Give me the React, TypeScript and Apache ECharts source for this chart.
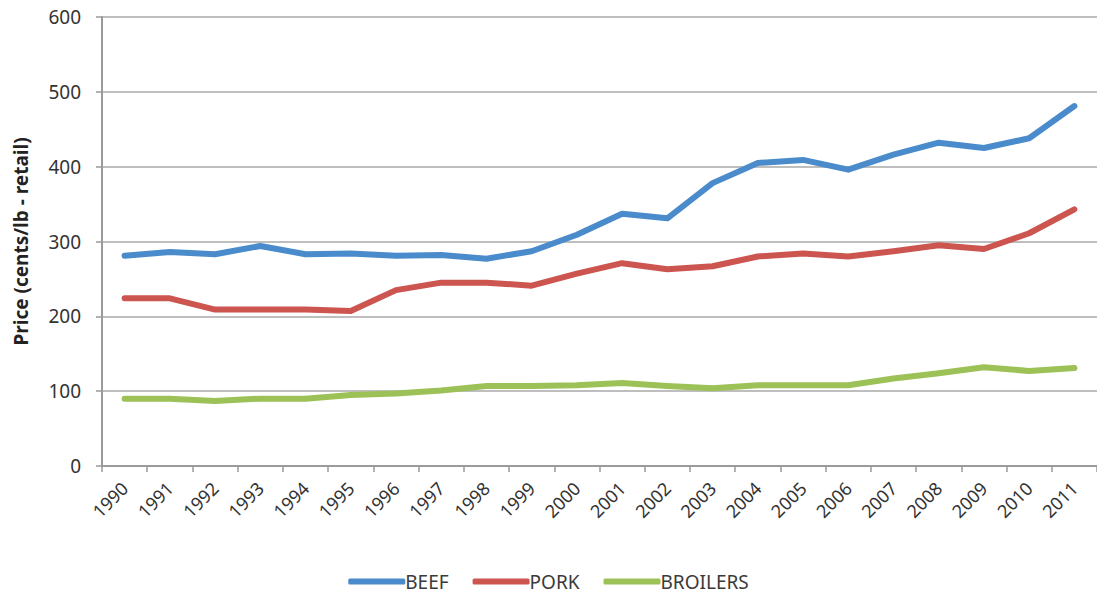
import React, { useEffect, useRef } from "react";
import * as echarts from "echarts";

const years = ["1990","1991","1992","1993","1994","1995","1996","1997","1998","1999","2000","2001","2002","2003","2004","2005","2006","2007","2008","2009","2010","2011"];
const beef = [281, 286, 283, 294, 283, 284, 281, 282, 277, 287, 309, 337, 331, 378, 405, 409, 396, 416, 432, 425, 438, 481];
const pork = [224, 224, 209, 209, 209, 207, 235, 245, 245, 241, 257, 271, 263, 267, 280, 284, 280, 287, 295, 290, 311, 343];
const broilers = [90, 90, 87, 90, 90, 95, 97, 101, 107, 107, 108, 111, 107, 104, 108, 108, 108, 117, 124, 132, 127, 131];
const yTicks = [0, 100, 200, 300, 400, 500, 600];

const FONT = "'Noto Sans', 'Open Sans', sans-serif";

export default function App() {
  const ref = useRef<HTMLDivElement>(null);
  useEffect(() => {
    if (!ref.current) return;
    const chart = echarts.init(ref.current, null, { renderer: "svg" });
    const mk = (name: string, data: number[], color: string) => ({
      name,
      type: "line",
      data,
      symbol: "none",
      smooth: false,
      lineStyle: { color, width: 6, cap: "round", join: "round" },
      itemStyle: { color },
    });
    chart.setOption({
      animation: false,
      backgroundColor: "#ffffff",
      textStyle: { fontFamily: FONT },
      grid: { left: 102, top: 17, width: 998, height: 449 },
      legend: {
        top: 567,
        left: "center",
        icon: "roundRect",
        itemWidth: 57,
        itemHeight: 6,
        itemGap: 24,
        textStyle: { fontFamily: FONT, fontSize: 19, color: "#3a3a3a", padding: [0, 0, 0, -5] },
        data: ["BEEF", "PORK", "BROILERS"],
      },
      xAxis: {
        type: "category",
        data: years,
        boundaryGap: true,
        axisLine: { lineStyle: { color: "#9a9a9a", width: 2 } },
        axisTick: { show: true, interval: 0, length: 6, lineStyle: { color: "#9a9a9a", width: 1.5 } },
        axisLabel: { interval: 0, rotate: 45, fontSize: 18, color: "#333", margin: 19, fontFamily: FONT },
        splitLine: { show: false },
      },
      yAxis: {
        type: "value",
        min: yTicks[0],
        max: yTicks[yTicks.length - 1],
        interval: 100,
        name: "Price (cents/lb - retail)",
        nameLocation: "middle",
        nameGap: 72,
        nameTextStyle: { fontFamily: FONT, fontSize: 19, fontWeight: "bold", color: "#222" },
        axisLine: { show: true, lineStyle: { color: "#9a9a9a", width: 2 } },
        axisTick: { show: true, length: 6, lineStyle: { color: "#9a9a9a", width: 1.5 } },
        axisLabel: { fontSize: 19, color: "#333", margin: 21, fontFamily: FONT },
        splitLine: { show: true, lineStyle: { color: "#a8a8a8", width: 1.5 } },
      },
      series: [
        mk("BEEF", beef, "#4a8bcb"),
        mk("PORK", pork, "#cc5550"),
        mk("BROILERS", broilers, "#9cc156"),
      ],
    });
    return () => chart.dispose();
  }, []);
  return (
    <div
      ref={ref}
      style={{ position: "absolute", left: 0, top: 0, width: 1097, height: 595, background: "#fff" }}
    />
  );
}
